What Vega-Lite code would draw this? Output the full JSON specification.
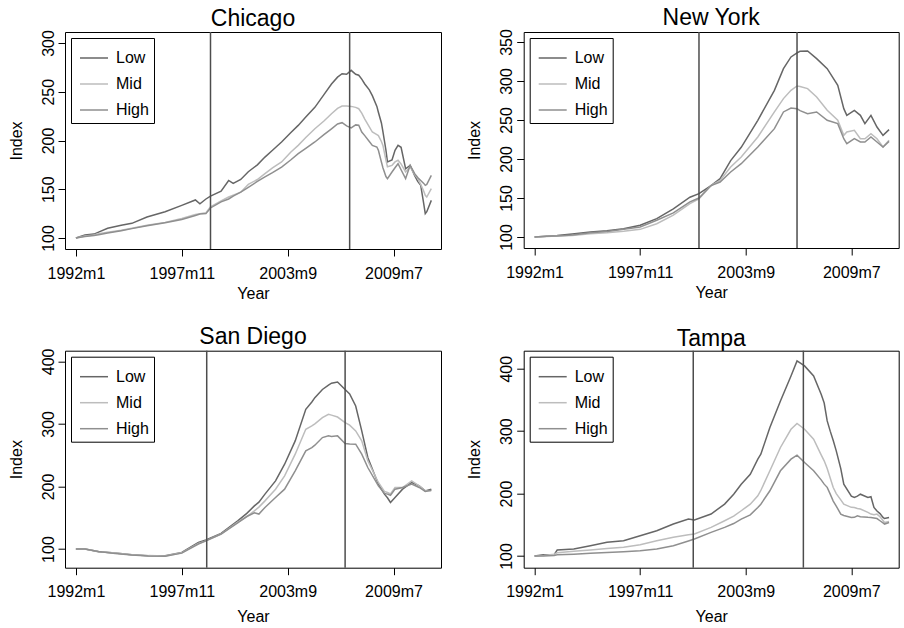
{
  "$schema": "https://vega.github.io/schema/vega-lite/v6.json",
  "padding": {"left": 7, "top": 6, "right": 0, "bottom": 0},
  "background": "white",
  "columns": 2,
  "spacing": {"row": 101.7, "column": 82.7},
  "bounds": "flush",
  "config": {
    "font": "Liberation Sans",
    "view": {"stroke": "black", "strokeWidth": 1},
    "title": {"fontSize": 23, "fontWeight": "normal", "font": "Liberation Sans", "color": "black", "anchor": "middle", "frame": "group", "baseline": "bottom", "offset": -1},
    "axis": {"grid": false, "domain": false, "tickColor": "black", "tickSize": 7, "tickWidth": 1, "labelFontSize": 16, "titleFontSize": 16, "labelColor": "black", "titleColor": "black", "titleFontWeight": "normal", "labelFont": "Liberation Sans", "titleFont": "Liberation Sans", "labelOverlap": false, "labelFlush": false},
    "axisY": {"labelAngle": -90, "labelAlign": "center", "labelBaseline": "bottom", "labelPadding": 2, "titlePadding": 16},
    "axisX": {"labelPadding": 9, "titlePadding": 4},
    "legend": {"orient": "none", "legendX": 6, "legendY": 6, "strokeColor": "black", "strokeWidth": 1, "fillColor": "white", "padding": 5, "symbolType": "stroke", "symbolSize": 784, "symbolStrokeWidth": 1.5, "symbolOffset": 3, "labelOffset": 7, "labelFontSize": 16, "labelColor": "black", "rowPadding": 3}
  },
  "resolve": {"scale": {"color": "independent", "x": "independent", "y": "independent"}, "legend": {"color": "independent"}},
  "datasets": {
    "breaks": [
      {"city": "Chicago", "month": 89}, {"city": "Chicago", "month": 181},
      {"city": "New York", "month": 109}, {"city": "New York", "month": 174},
      {"city": "San Diego", "month": 86.5}, {"city": "San Diego", "month": 178},
      {"city": "Tampa", "month": 105.2}, {"city": "Tampa", "month": 178.2}
    ],
    "hpi": [
      {"city":"Chicago","month":0,"Low":100,"Mid":100,"High":100},
      {"city":"Chicago","month":6,"Low":103,"Mid":102,"High":101.5},
      {"city":"Chicago","month":12,"Low":104,"Mid":103,"High":102.5},
      {"city":"Chicago","month":15,"Low":106,"Mid":104.4,"High":103.4},
      {"city":"Chicago","month":21,"Low":110,"Mid":106,"High":105},
      {"city":"Chicago","month":30,"Low":113,"Mid":108,"High":107.5},
      {"city":"Chicago","month":37,"Low":115,"Mid":110,"High":109.6},
      {"city":"Chicago","month":47,"Low":121.5,"Mid":113,"High":112.5},
      {"city":"Chicago","month":59,"Low":127,"Mid":116,"High":115.7},
      {"city":"Chicago","month":70,"Low":133.5,"Mid":120,"High":119},
      {"city":"Chicago","month":79,"Low":139,"Mid":124,"High":123},
      {"city":"Chicago","month":82,"Low":135,"Mid":125,"High":124.5},
      {"city":"Chicago","month":86,"Low":140,"Mid":126,"High":125},
      {"city":"Chicago","month":89,"Low":143,"Mid":132,"High":130.8},
      {"city":"Chicago","month":96,"Low":148,"Mid":138,"High":137},
      {"city":"Chicago","month":101,"Low":159,"Mid":142,"High":140},
      {"city":"Chicago","month":104,"Low":156,"Mid":144,"High":143},
      {"city":"Chicago","month":109,"Low":160,"Mid":147,"High":147},
      {"city":"Chicago","month":114,"Low":168,"Mid":155,"High":152},
      {"city":"Chicago","month":120,"Low":175,"Mid":160,"High":158},
      {"city":"Chicago","month":125,"Low":183,"Mid":166,"High":162.6},
      {"city":"Chicago","month":130,"Low":190,"Mid":172,"High":167},
      {"city":"Chicago","month":136,"Low":198.5,"Mid":178,"High":172.8},
      {"city":"Chicago","month":142,"Low":208,"Mid":188,"High":180},
      {"city":"Chicago","month":147,"Low":215.5,"Mid":195,"High":186.5},
      {"city":"Chicago","month":152,"Low":224,"Mid":203,"High":192},
      {"city":"Chicago","month":158,"Low":234,"Mid":212,"High":198.5},
      {"city":"Chicago","month":164,"Low":247,"Mid":220,"High":206},
      {"city":"Chicago","month":169,"Low":258,"Mid":227.5,"High":212},
      {"city":"Chicago","month":173,"Low":265,"Mid":233,"High":217},
      {"city":"Chicago","month":176,"Low":268.5,"Mid":235.4,"High":218.3},
      {"city":"Chicago","month":179,"Low":268,"Mid":235.5,"High":215},
      {"city":"Chicago","month":182,"Low":272,"Mid":235,"High":213},
      {"city":"Chicago","month":185,"Low":268,"Mid":234,"High":216},
      {"city":"Chicago","month":187,"Low":267,"Mid":232.6,"High":215.6},
      {"city":"Chicago","month":189,"Low":263,"Mid":228,"High":208.7},
      {"city":"Chicago","month":191,"Low":258,"Mid":222,"High":205},
      {"city":"Chicago","month":194,"Low":252,"Mid":214,"High":199},
      {"city":"Chicago","month":196,"Low":246,"Mid":208.7,"High":195},
      {"city":"Chicago","month":199,"Low":235,"Mid":206,"High":193.3},
      {"city":"Chicago","month":200,"Low":229,"Mid":205,"High":190},
      {"city":"Chicago","month":202,"Low":218,"Mid":199,"High":178},
      {"city":"Chicago","month":203,"Low":209,"Mid":195,"High":172},
      {"city":"Chicago","month":205,"Low":190,"Mid":180,"High":163},
      {"city":"Chicago","month":206,"Low":178,"Mid":173,"High":160.9},
      {"city":"Chicago","month":209,"Low":180,"Mid":174.5,"High":167.7},
      {"city":"Chicago","month":211,"Low":190,"Mid":178,"High":172},
      {"city":"Chicago","month":213,"Low":195,"Mid":179.7,"High":176.2},
      {"city":"Chicago","month":215,"Low":193,"Mid":176,"High":170},
      {"city":"Chicago","month":218,"Low":171,"Mid":167.7,"High":161},
      {"city":"Chicago","month":221,"Low":174.5,"Mid":173,"High":174.5},
      {"city":"Chicago","month":224,"Low":164,"Mid":165,"High":166},
      {"city":"Chicago","month":226,"Low":158,"Mid":161,"High":162},
      {"city":"Chicago","month":228,"Low":154,"Mid":155,"High":159},
      {"city":"Chicago","month":230,"Low":135,"Mid":148,"High":156},
      {"city":"Chicago","month":231,"Low":125,"Mid":143.8,"High":154},
      {"city":"Chicago","month":232,"Low":127,"Mid":142,"High":155},
      {"city":"Chicago","month":235,"Low":138.6,"Mid":150.6,"High":164.3},

      {"city":"New York","month":0,"Low":100,"Mid":100,"High":100},
      {"city":"New York","month":8,"Low":101,"Mid":100.5,"High":101},
      {"city":"New York","month":15,"Low":102,"Mid":101.3,"High":101.3},
      {"city":"New York","month":25,"Low":104,"Mid":102,"High":102.5},
      {"city":"New York","month":37,"Low":106.4,"Mid":104.3,"High":105.5},
      {"city":"New York","month":48,"Low":108,"Mid":105.5,"High":107},
      {"city":"New York","month":59,"Low":110.7,"Mid":107.3,"High":109.8},
      {"city":"New York","month":70,"Low":115,"Mid":109.8,"High":112.8},
      {"city":"New York","month":81,"Low":123.5,"Mid":117,"High":121.4},
      {"city":"New York","month":92,"Low":136,"Mid":128,"High":131},
      {"city":"New York","month":103,"Low":151,"Mid":142.7,"High":145},
      {"city":"New York","month":109,"Low":155.6,"Mid":149,"High":150},
      {"city":"New York","month":117,"Low":166,"Mid":166,"High":166},
      {"city":"New York","month":123,"Low":174.8,"Mid":172.6,"High":170.5},
      {"city":"New York","month":130,"Low":198,"Mid":189.7,"High":183.3},
      {"city":"New York","month":137,"Low":215,"Mid":202.6,"High":194},
      {"city":"New York","month":148,"Low":249.6,"Mid":228.2,"High":215.4},
      {"city":"New York","month":159,"Low":288,"Mid":260.3,"High":238.9},
      {"city":"New York","month":165,"Low":315.8,"Mid":277.4,"High":260.3},
      {"city":"New York","month":170,"Low":330.8,"Mid":288,"High":265.4},
      {"city":"New York","month":174,"Low":336,"Mid":293.6,"High":264.5},
      {"city":"New York","month":176,"Low":338,"Mid":293,"High":262},
      {"city":"New York","month":181,"Low":338.5,"Mid":290.2,"High":258},
      {"city":"New York","month":187,"Low":328.6,"Mid":279.5,"High":260.3},
      {"city":"New York","month":194,"Low":315.8,"Mid":262.4,"High":249.6},
      {"city":"New York","month":201,"Low":294.4,"Mid":249.6,"High":245.3},
      {"city":"New York","month":205,"Low":264.5,"Mid":230.3,"High":226},
      {"city":"New York","month":207,"Low":256,"Mid":234.6,"High":219.7},
      {"city":"New York","month":212,"Low":262.4,"Mid":236.8,"High":226},
      {"city":"New York","month":216,"Low":256,"Mid":226,"High":221.8},
      {"city":"New York","month":219,"Low":245.3,"Mid":226,"High":221.8},
      {"city":"New York","month":223,"Low":256,"Mid":232.5,"High":228.2},
      {"city":"New York","month":227,"Low":241,"Mid":226,"High":221.8},
      {"city":"New York","month":231,"Low":230.3,"Mid":215.4,"High":215.4},
      {"city":"New York","month":235,"Low":237.6,"Mid":224,"High":222.6},

      {"city":"San Diego","month":0,"Low":100,"Mid":100,"High":100},
      {"city":"San Diego","month":6,"Low":100,"Mid":100,"High":100},
      {"city":"San Diego","month":15,"Low":95.7,"Mid":96,"High":96},
      {"city":"San Diego","month":26,"Low":93.6,"Mid":93.5,"High":93},
      {"city":"San Diego","month":37,"Low":91,"Mid":91,"High":90.5},
      {"city":"San Diego","month":48,"Low":89.4,"Mid":89.5,"High":89},
      {"city":"San Diego","month":59,"Low":89.4,"Mid":89,"High":88.5},
      {"city":"San Diego","month":70,"Low":94.7,"Mid":94,"High":93.5},
      {"city":"San Diego","month":81,"Low":110.6,"Mid":109,"High":108},
      {"city":"San Diego","month":86,"Low":114.4,"Mid":113,"High":113},
      {"city":"San Diego","month":96,"Low":125,"Mid":124,"High":124},
      {"city":"San Diego","month":107,"Low":145,"Mid":143,"High":142},
      {"city":"San Diego","month":113,"Low":157,"Mid":152,"High":152},
      {"city":"San Diego","month":118,"Low":169,"Mid":161,"High":158},
      {"city":"San Diego","month":121,"Low":175,"Mid":167,"High":155.9},
      {"city":"San Diego","month":125,"Low":187.8,"Mid":177,"High":166.5},
      {"city":"San Diego","month":132,"Low":209,"Mid":195.7,"High":182.4},
      {"city":"San Diego","month":138,"Low":235.6,"Mid":217,"High":195.7},
      {"city":"San Diego","month":145,"Low":272.9,"Mid":251.6,"High":225},
      {"city":"San Diego","month":152,"Low":323.4,"Mid":291.5,"High":257},
      {"city":"San Diego","month":156,"Low":335,"Mid":296.8,"High":262.2},
      {"city":"San Diego","month":158,"Low":342,"Mid":300,"High":266},
      {"city":"San Diego","month":163,"Low":355,"Mid":310,"High":278.2},
      {"city":"San Diego","month":167,"Low":362,"Mid":315.4,"High":280.9},
      {"city":"San Diego","month":169,"Low":365,"Mid":314,"High":280},
      {"city":"San Diego","month":173,"Low":367,"Mid":311,"High":280.9},
      {"city":"San Diego","month":178,"Low":355,"Mid":302,"High":268.6},
      {"city":"San Diego","month":181,"Low":348,"Mid":298,"High":268},
      {"city":"San Diego","month":185,"Low":328.7,"Mid":288.8,"High":267.6},
      {"city":"San Diego","month":189,"Low":288.8,"Mid":272.9,"High":251.6},
      {"city":"San Diego","month":193,"Low":246.3,"Mid":241,"High":230.3},
      {"city":"San Diego","month":200,"Low":203.7,"Mid":206.4,"High":201},
      {"city":"San Diego","month":204,"Low":187.8,"Mid":192,"High":189},
      {"city":"San Diego","month":206,"Low":182,"Mid":190.4,"High":187.8},
      {"city":"San Diego","month":208,"Low":174.5,"Mid":188,"High":186},
      {"city":"San Diego","month":211,"Low":182.4,"Mid":198.4,"High":195.7},
      {"city":"San Diego","month":216,"Low":195.7,"Mid":198.4,"High":198.4},
      {"city":"San Diego","month":222,"Low":206.4,"Mid":209,"High":203.7},
      {"city":"San Diego","month":227,"Low":201,"Mid":201,"High":198.4},
      {"city":"San Diego","month":231,"Low":193,"Mid":193,"High":192},
      {"city":"San Diego","month":235,"Low":195.7,"Mid":193,"High":194},

      {"city":"Tampa","month":0,"Low":100,"Mid":100,"High":100},
      {"city":"Tampa","month":6,"Low":102,"Mid":101,"High":100},
      {"city":"Tampa","month":13,"Low":102,"Mid":103,"High":101},
      {"city":"Tampa","month":15,"Low":109.6,"Mid":105.3,"High":102},
      {"city":"Tampa","month":26,"Low":111.2,"Mid":107.5,"High":103},
      {"city":"Tampa","month":37,"Low":116.5,"Mid":109.6,"High":104.3},
      {"city":"Tampa","month":48,"Low":121.9,"Mid":112,"High":105.5},
      {"city":"Tampa","month":59,"Low":124.5,"Mid":113.9,"High":106.9},
      {"city":"Tampa","month":70,"Low":132.5,"Mid":118,"High":108.5},
      {"city":"Tampa","month":81,"Low":140.5,"Mid":124.5,"High":111.2},
      {"city":"Tampa","month":92,"Low":151.2,"Mid":129.9,"High":116.5},
      {"city":"Tampa","month":102,"Low":159.2,"Mid":134,"High":124},
      {"city":"Tampa","month":106,"Low":157.6,"Mid":135.2,"High":127.2},
      {"city":"Tampa","month":117,"Low":167.2,"Mid":145.8,"High":137.8},
      {"city":"Tampa","month":126,"Low":183.2,"Mid":156.5,"High":145.8},
      {"city":"Tampa","month":132,"Low":199,"Mid":164,"High":152},
      {"city":"Tampa","month":137,"Low":215,"Mid":172.5,"High":159.2},
      {"city":"Tampa","month":143,"Low":231,"Mid":183,"High":166},
      {"city":"Tampa","month":148,"Low":255,"Mid":196.5,"High":177.8},
      {"city":"Tampa","month":150,"Low":263,"Mid":205,"High":183},
      {"city":"Tampa","month":156,"Low":305.8,"Mid":236.5,"High":204.5},
      {"city":"Tampa","month":163,"Low":348.4,"Mid":273.8,"High":236.5},
      {"city":"Tampa","month":170,"Low":388.4,"Mid":303,"High":255.1},
      {"city":"Tampa","month":174,"Low":412.4,"Mid":312.2,"High":261.5},
      {"city":"Tampa","month":179,"Low":404.4,"Mid":303,"High":249.8},
      {"city":"Tampa","month":185,"Low":388.4,"Mid":287,"High":236.5},
      {"city":"Tampa","month":190,"Low":359,"Mid":262,"High":222},
      {"city":"Tampa","month":192,"Low":345,"Mid":252.5,"High":215.1},
      {"city":"Tampa","month":194,"Low":316.4,"Mid":240,"High":210},
      {"city":"Tampa","month":196,"Low":300,"Mid":225,"High":199.1},
      {"city":"Tampa","month":198,"Low":285,"Mid":209.8,"High":188},
      {"city":"Tampa","month":200,"Low":268.4,"Mid":200,"High":180},
      {"city":"Tampa","month":203,"Low":240,"Mid":190,"High":167.2},
      {"city":"Tampa","month":205,"Low":215,"Mid":183.2,"High":165},
      {"city":"Tampa","month":210,"Low":196,"Mid":178,"High":161.8},
      {"city":"Tampa","month":212,"Low":193.8,"Mid":177.8,"High":162},
      {"city":"Tampa","month":214,"Low":196,"Mid":176,"High":164.5},
      {"city":"Tampa","month":216,"Low":199,"Mid":175.2,"High":163},
      {"city":"Tampa","month":221,"Low":193.8,"Mid":170,"High":162},
      {"city":"Tampa","month":223,"Low":195,"Mid":167.2,"High":161.8},
      {"city":"Tampa","month":225,"Low":177.8,"Mid":166,"High":161},
      {"city":"Tampa","month":227,"Low":172,"Mid":167.2,"High":160},
      {"city":"Tampa","month":229,"Low":168,"Mid":163,"High":156.5},
      {"city":"Tampa","month":231,"Low":161.8,"Mid":157,"High":153},
      {"city":"Tampa","month":232,"Low":160,"Mid":153.8,"High":151.2},
      {"city":"Tampa","month":235,"Low":161.8,"Mid":155.4,"High":153.8}
    ]
  },
  "concat": [
    {
      "title": "Chicago",
      "width": 376, "height": 217,
      "layer": [
        {
          "data": {"name": "hpi"},
          "transform": [{"filter": "datum.city === 'Chicago'"}, {"fold": ["Low", "Mid", "High"], "as": ["tier", "index"]}],
          "mark": {"type": "line", "strokeWidth": 1.5},
          "encoding": {
            "x": {"field": "month", "type": "quantitative", "scale": {"domain": [-7.2, 241.4], "nice": false, "zero": false}, "axis": {"values": [0, 70, 140, 210], "labelExpr": "datum.value == 0 ? '1992m1' : datum.value == 70 ? '1997m11' : datum.value == 140 ? '2003m9' : '2009m7'", "title": "Year"}},
            "y": {"field": "index", "type": "quantitative", "scale": {"domain": [88.7, 311.3], "nice": false, "zero": false}, "axis": {"values": [100, 150, 200, 250, 300], "title": "Index"}},
            "color": {"field": "tier", "type": "nominal", "sort": ["Low", "Mid", "High"], "scale": {"domain": ["Low", "Mid", "High"], "range": ["#666666", "#bdbdbd", "#8f8f8f"]}, "legend": {"title": null}}
          }
        },
        {
          "data": {"name": "breaks"},
          "transform": [{"filter": "datum.city === 'Chicago'"}],
          "mark": {"type": "rule", "color": "#4d4d4d", "strokeWidth": 1.5},
          "encoding": {"x": {"field": "month", "type": "quantitative"}}
        }
      ]
    },
    {
      "title": "New York",
      "width": 375, "height": 216,
      "layer": [
        {
          "data": {"name": "hpi"},
          "transform": [{"filter": "datum.city === 'New York'"}, {"fold": ["Low", "Mid", "High"], "as": ["tier", "index"]}],
          "mark": {"type": "line", "strokeWidth": 1.5},
          "encoding": {
            "x": {"field": "month", "type": "quantitative", "scale": {"domain": [-7.2, 241.4], "nice": false, "zero": false}, "axis": {"values": [0, 70, 140, 210], "labelExpr": "datum.value == 0 ? '1992m1' : datum.value == 70 ? '1997m11' : datum.value == 140 ? '2003m9' : '2009m7'", "title": "Year"}},
            "y": {"field": "index", "type": "quantitative", "scale": {"domain": [85.9, 362.8], "nice": false, "zero": false}, "axis": {"values": [100, 150, 200, 250, 300, 350], "title": "Index"}},
            "color": {"field": "tier", "type": "nominal", "sort": ["Low", "Mid", "High"], "scale": {"domain": ["Low", "Mid", "High"], "range": ["#666666", "#bdbdbd", "#8f8f8f"]}, "legend": {"title": null}}
          }
        },
        {
          "data": {"name": "breaks"},
          "transform": [{"filter": "datum.city === 'New York'"}],
          "mark": {"type": "rule", "color": "#4d4d4d", "strokeWidth": 1.5},
          "encoding": {"x": {"field": "month", "type": "quantitative"}}
        }
      ]
    },
    {
      "title": "San Diego",
      "width": 376, "height": 217,
      "layer": [
        {
          "data": {"name": "hpi"},
          "transform": [{"filter": "datum.city === 'San Diego'"}, {"fold": ["Low", "Mid", "High"], "as": ["tier", "index"]}],
          "mark": {"type": "line", "strokeWidth": 1.5},
          "encoding": {
            "x": {"field": "month", "type": "quantitative", "scale": {"domain": [-7.2, 241.4], "nice": false, "zero": false}, "axis": {"values": [0, 70, 140, 210], "labelExpr": "datum.value == 0 ? '1992m1' : datum.value == 70 ? '1997m11' : datum.value == 140 ? '2003m9' : '2009m7'", "title": "Year", "titlePadding": 9}},
            "y": {"field": "index", "type": "quantitative", "scale": {"domain": [70.2, 417], "nice": false, "zero": false}, "axis": {"values": [100, 200, 300, 400], "title": "Index"}},
            "color": {"field": "tier", "type": "nominal", "sort": ["Low", "Mid", "High"], "scale": {"domain": ["Low", "Mid", "High"], "range": ["#666666", "#bdbdbd", "#8f8f8f"]}, "legend": {"title": null}}
          }
        },
        {
          "data": {"name": "breaks"},
          "transform": [{"filter": "datum.city === 'San Diego'"}],
          "mark": {"type": "rule", "color": "#4d4d4d", "strokeWidth": 1.5},
          "encoding": {"x": {"field": "month", "type": "quantitative"}}
        }
      ]
    },
    {
      "title": "Tampa",
      "width": 375, "height": 217,
      "layer": [
        {
          "data": {"name": "hpi"},
          "transform": [{"filter": "datum.city === 'Tampa'"}, {"fold": ["Low", "Mid", "High"], "as": ["tier", "index"]}],
          "mark": {"type": "line", "strokeWidth": 1.5},
          "encoding": {
            "x": {"field": "month", "type": "quantitative", "scale": {"domain": [-7.2, 241.4], "nice": false, "zero": false}, "axis": {"values": [0, 70, 140, 210], "labelExpr": "datum.value == 0 ? '1992m1' : datum.value == 70 ? '1997m11' : datum.value == 140 ? '2003m9' : '2009m7'", "title": "Year", "titlePadding": 9}},
            "y": {"field": "index", "type": "quantitative", "scale": {"domain": [81.3, 428.8], "nice": false, "zero": false}, "axis": {"values": [100, 200, 300, 400], "title": "Index"}},
            "color": {"field": "tier", "type": "nominal", "sort": ["Low", "Mid", "High"], "scale": {"domain": ["Low", "Mid", "High"], "range": ["#666666", "#bdbdbd", "#8f8f8f"]}, "legend": {"title": null}}
          }
        },
        {
          "data": {"name": "breaks"},
          "transform": [{"filter": "datum.city === 'Tampa'"}],
          "mark": {"type": "rule", "color": "#4d4d4d", "strokeWidth": 1.5},
          "encoding": {"x": {"field": "month", "type": "quantitative"}}
        }
      ]
    }
  ]
}
